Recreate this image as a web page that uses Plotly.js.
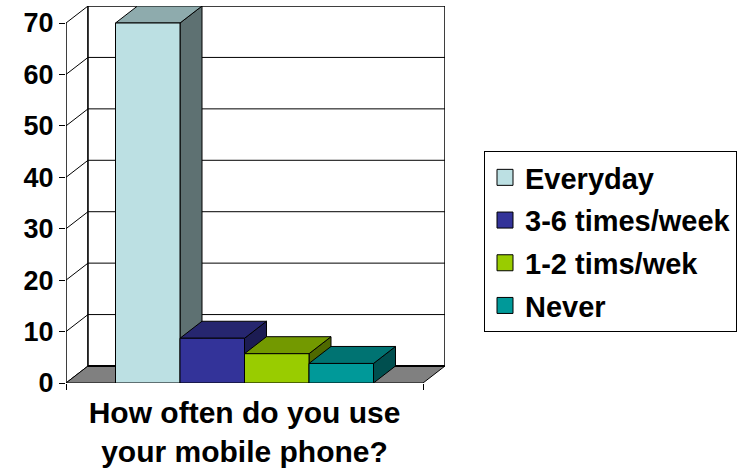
<!DOCTYPE html>
<html>
<head>
<meta charset="utf-8">
<script src="https://cdn.plot.ly/plotly-3.0.1.min.js"></script>
<style>html,body{margin:0;padding:0;background:#fff;}</style>
</head>
<body>
<div id="chart" style="width:746px;height:473px;"></div>
<script>
// ---- data ----
const categories = ['How often do you use<br>your mobile phone?'];
const seriesNames = ['Everyday', '3-6 times/week', '1-2 tims/wek', 'Never'];
const seriesValues = [70, 8.7, 5.7, 3.8];
const yTickValues = [0, 10, 20, 30, 40, 50, 60, 70];
const yTickLabels = ['0', '10', '20', '30', '40', '50', '60', '70'];

// ---- style ----
const frontColors = ['#BCE0E3', '#333399', '#99CC00', '#009999'];
const topColors   = ['#8EABAD', '#26266F', '#739900', '#007372'];
const sideColors  = ['#5E7172', '#1C1C53', '#4F6900', '#004F4F'];
const FONT = 'Liberation Sans, Arial, sans-serif';

// geometry (pixels for the fake 3D depth)
const W = 746, H = 473;
const mL = 66, mR = 301, mT = 6, mB = 90;
const plotW = W - mL - mR, plotH = H - mT - mB;
const depthPxX = 22, depthPxY = 17;
const yMaxFront = yTickValues[yTickValues.length - 1];
const pxPerX = plotW - depthPxX;               // one category band = front width
const dxU = depthPxX / pxPerX;
const pxPerY = (plotH - depthPxY) / yMaxFront;
const dyU = depthPxY / pxPerY;
const bargap = 0.2773;
const bw = (1 - bargap) / seriesValues.length;

const shapes = [];
const line1 = {color: '#000', width: 1};
// left side wall
shapes.push({type: 'path', layer: 'below', xref: 'x', yref: 'y',
  path: `M${-0.5},0 L${-0.5},${yMaxFront} L${-0.5 + dxU},${yMaxFront + dyU} L${-0.5 + dxU},${dyU} Z`,
  fillcolor: '#fff', line: line1});
// back wall
shapes.push({type: 'rect', layer: 'below', xref: 'x', yref: 'y',
  x0: -0.5 + dxU, x1: 0.5 + dxU, y0: dyU, y1: yMaxFront + dyU,
  fillcolor: '#fff', line: {color: '#000', width: 1.5}});
// gridlines on walls
yTickValues.forEach(v => {
  if (v === 0 || v === yMaxFront) return;
  shapes.push({type: 'line', layer: 'below', xref: 'x', yref: 'y',
    x0: -0.5, y0: v, x1: -0.5 + dxU, y1: v + dyU, line: line1});
  shapes.push({type: 'line', layer: 'below', xref: 'x', yref: 'y',
    x0: -0.5 + dxU, y0: v + dyU, x1: 0.5 + dxU, y1: v + dyU, line: line1});
});
// floor
shapes.push({type: 'path', layer: 'below', xref: 'x', yref: 'y',
  path: `M${-0.5},0 L0.5,0 L${0.5 + dxU},${dyU} L${-0.5 + dxU},${dyU} Z`,
  fillcolor: '#808080', line: line1});
shapes.push({type: 'line', layer: 'below', xref: 'x', yref: 'y',
  x0: -0.5 + dxU, y0: dyU, x1: 0.5 + dxU, y1: dyU, line: {color: '#000', width: 2}});
// front value axis line
shapes.push({type: 'line', layer: 'below', xref: 'x', yref: 'y',
  x0: -0.5, y0: 0, x1: -0.5, y1: yMaxFront, line: line1});

// 3D top and side faces for each bar (front faces are the bar traces)
seriesValues.forEach((v, i) => {
  const x0 = -(1 - bargap) / 2 + i * bw;
  const x1 = x0 + bw;
  shapes.push({type: 'path', layer: 'below', xref: 'x', yref: 'y',
    path: `M${x1},0 L${x1},${v} L${x1 + dxU},${v + dyU} L${x1 + dxU},${dyU} Z`,
    fillcolor: sideColors[i], line: line1});
  shapes.push({type: 'path', layer: 'below', xref: 'x', yref: 'y',
    path: `M${x0},${v} L${x1},${v} L${x1 + dxU},${v + dyU} L${x0 + dxU},${v + dyU} Z`,
    fillcolor: topColors[i], line: line1});
});

const traces = [];
seriesNames.forEach((name, i) => {
  traces.push({type: 'bar', name: name, x: categories, y: [seriesValues[i]],
    marker: {color: frontColors[i], line: {color: '#000', width: 1}},
    showlegend: false, hoverinfo: 'skip'});
});
// legend entries (square swatches)
seriesNames.forEach((name, i) => {
  traces.push({type: 'scatter', mode: 'markers', name: name, x: [null], y: [null],
    legendgroup: 'g' + i,
    marker: {symbol: 'square', size: 16, color: frontColors[i], line: {color: '#000', width: 1}},
    showlegend: true, hoverinfo: 'skip'});
});

const layout = {
  width: W, height: H,
  margin: {l: mL, r: mR, t: mT, b: mB, pad: 0},
  paper_bgcolor: '#fff', plot_bgcolor: 'rgba(0,0,0,0)',
  font: {family: FONT, size: 27, color: '#000', weight: 'bold'},
  barmode: 'group', bargap: bargap, bargroupgap: 0,
  xaxis: {type: 'category', range: [-0.5, 0.5 + dxU], fixedrange: true,
    showgrid: false, zeroline: false, showline: false,
    ticks: 'outside', tickson: 'boundaries', ticklen: 6, tickwidth: 1, tickcolor: '#000',
    ticklabelstandoff: 9,
    tickfont: {family: FONT, size: 30, color: '#000', weight: 'bold'}},
  yaxis: {range: [0, yMaxFront + dyU], fixedrange: true,
    showgrid: false, zeroline: false, showline: false,
    tickmode: 'array', tickvals: yTickValues, ticktext: yTickLabels,
    ticks: 'outside', ticklen: 6, tickwidth: 1, tickcolor: '#000',
    tickfont: {family: FONT, size: 27, color: '#000', weight: 'bold'}},
  legend: {xref: 'container', yref: 'container', x: 484 / W, y: 1 - 151 / H,
    xanchor: 'left', yanchor: 'top',
    bgcolor: '#fff', bordercolor: '#000', borderwidth: 1,
    traceorder: 'grouped', tracegroupgap: 2,
    font: {family: FONT, size: 29, color: '#000', weight: 'bold'}},
  shapes: shapes,
  showlegend: true
};

Plotly.newPlot('chart', traces, layout, {displayModeBar: false, staticPlot: true});
</script>
</body>
</html>
